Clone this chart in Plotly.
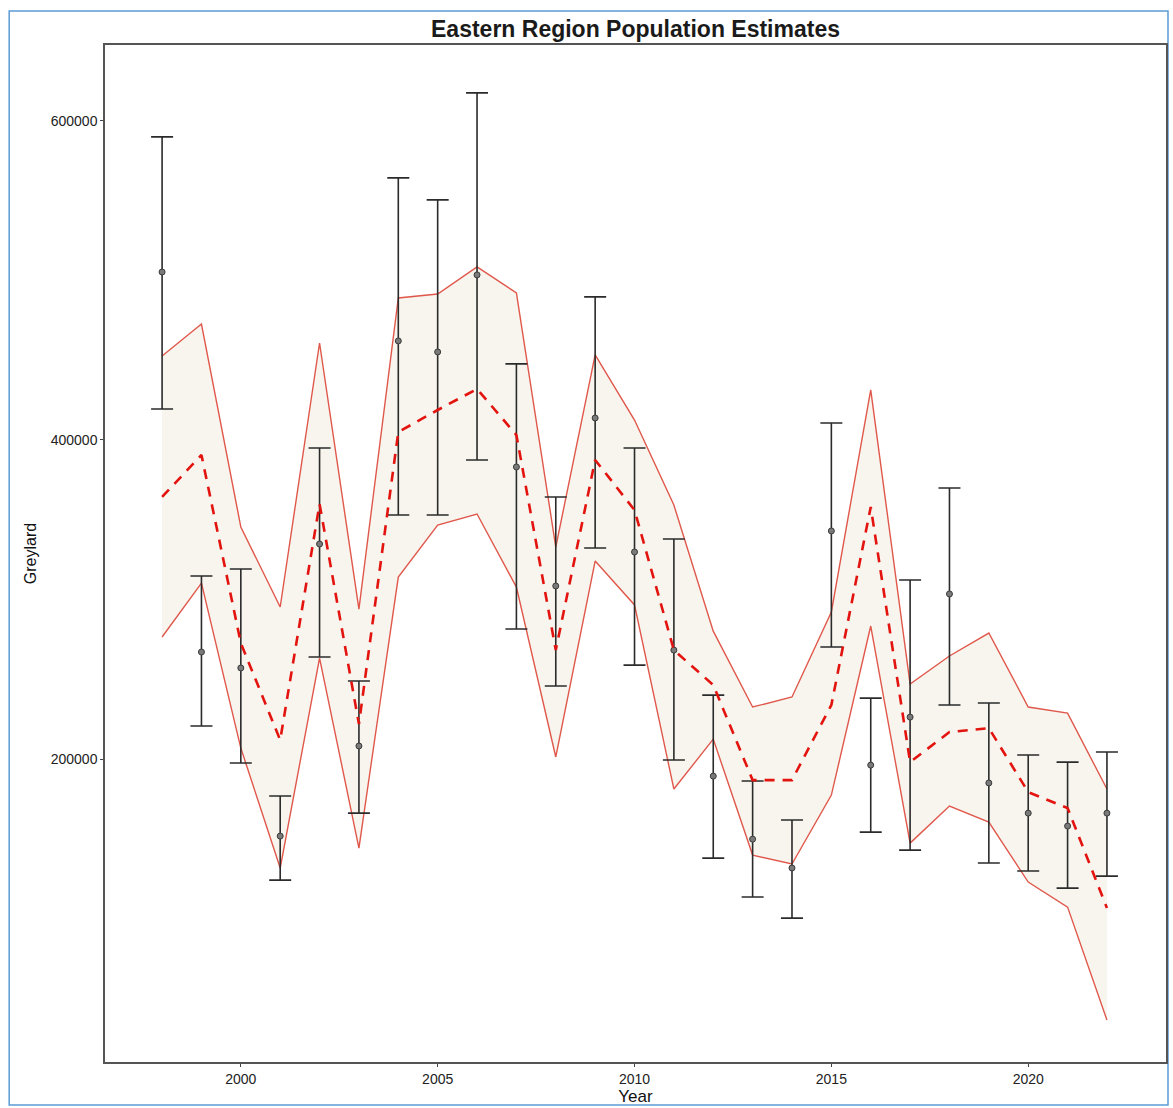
import plotly.graph_objects as go

# Survey years
years = list(range(1998, 2023))

# Annual point estimates with their lower/upper confidence limits
estimate = [505300, 267100, 257100, 151700, 334800, 208200, 462100, 455200, 503500,
            383100, 308500, 413800, 329800, 268300, 189300, 149800, 131700, 343000,
            196200, 226300, 303500, 185000, 166100, 158000, 166100]
est_low = [419400, 220700, 197500, 124100, 264000, 166100, 353000, 353000, 387500,
           281500, 245800, 332300, 258900, 199400, 137900, 113500, 100300, 270200,
           154200, 142900, 233900, 134800, 129800, 119100, 126600]
est_high = [590000, 314700, 319100, 176800, 395000, 248900, 564300, 550500, 617600,
            447700, 364300, 489700, 395000, 337900, 240100, 186200, 161800, 410700,
            238200, 312200, 369900, 235100, 202500, 198100, 204400]

# Modelled trend and its band
trend = [364300, 390600, 272700, 211900, 359900, 221900, 405000, 418800, 432000,
         403100, 268300, 387500, 356100, 268300, 246400, 186800, 186800, 233900,
         358000, 198100, 216900, 219400, 179300, 169300, 106600]
band_low = [276500, 310300, 206900, 131700, 263300, 144200, 314100, 346700, 353600,
            307800, 201300, 324100, 296600, 181200, 212500, 139800, 134200, 177400,
            283400, 147300, 170500, 160500, 122900, 107200, 36400]
band_high = [452700, 472700, 345500, 295300, 460800, 294000, 489000, 491500, 508500,
             492200, 332900, 453300, 412500, 359200, 280200, 232600, 238900, 292200,
             431400, 247000, 264600, 279000, 232600, 228800, 181200]

x_ticks = [2000, 2005, 2010, 2015, 2020]
y_ticks = [200000, 400000, 600000]
y_tick_labels = ["200000", "400000", "600000"]

band_line = "#e0584c"
fig = go.Figure()

fig.add_trace(go.Scatter(x=years, y=band_low, mode="lines",
                         line=dict(color=band_line, width=1.4),
                         showlegend=False, hoverinfo="skip"))
fig.add_trace(go.Scatter(x=years, y=band_high, mode="lines",
                         line=dict(color=band_line, width=1.4),
                         fill="tonexty", fillcolor="rgba(238,232,215,0.45)",
                         showlegend=False, hoverinfo="skip"))

err_plus = [h - e for h, e in zip(est_high, estimate)]
err_minus = [e - l for e, l in zip(estimate, est_low)]
fig.add_trace(go.Scatter(
    x=years, y=estimate, mode="markers",
    marker=dict(size=6, color="#7a7a7a", line=dict(color="#3a3a3a", width=1)),
    error_y=dict(type="data", array=err_plus, arrayminus=err_minus,
                 color="#2b2b2b", thickness=1.6, width=11),
    showlegend=False))

fig.add_trace(go.Scatter(x=years, y=trend, mode="lines",
                         line=dict(color="#e3140f", width=2.6, dash="10px,8px"),
                         showlegend=False, hoverinfo="skip"))

L, R, T, B = 105, 5, 45, 46
W, H = 1173, 1108
pw, ph = W - L - R, H - T - B


def px(xp):
    return (xp - L) / pw


def py(yp):
    return (H - B - yp) / ph


fig.update_layout(
    width=W, height=H,
    margin=dict(l=L, r=R, t=T, b=B),
    paper_bgcolor="white", plot_bgcolor="white",
    font=dict(family="Liberation Sans, Arial, sans-serif", color="#222"),
    title=dict(text="<b>Eastern Region Population Estimates</b>",
               x=px((L + W - R) / 2), xref="paper", xanchor="center",
               y=1 - 29 / H, yref="container", yanchor="middle",
               font=dict(size=23, color="#1a1a1a")),
    xaxis=dict(range=[1996.55, 2023.5], tickvals=x_ticks, ticks="outside",
               ticklen=3, tickcolor="#444", showgrid=False, zeroline=False,
               showline=True, linecolor="#555", linewidth=1.5, mirror=True,
               tickfont=dict(size=14, color="#222"),
               title=dict(text="Year", font=dict(size=17, color="#111"), standoff=1)),
    yaxis=dict(range=[10100, 647600], tickvals=y_ticks, ticktext=y_tick_labels,
               ticks="outside",
               ticklen=3, tickcolor="#444", showgrid=False, zeroline=False,
               showline=True, linecolor="#555", linewidth=1.5, mirror=True,
               tickfont=dict(size=14, color="#222"),
               title=dict(text="Greylard", font=dict(size=16, color="#111"), standoff=10)),
    shapes=[dict(type="rect", xref="paper", yref="paper",
                 x0=px(9), x1=px(1170), y0=py(1105), y1=py(11),
                 line=dict(color="#5b9bd5", width=1.5), fillcolor="rgba(0,0,0,0)",
                 layer="below")],
)

fig.write_html("out.html")
